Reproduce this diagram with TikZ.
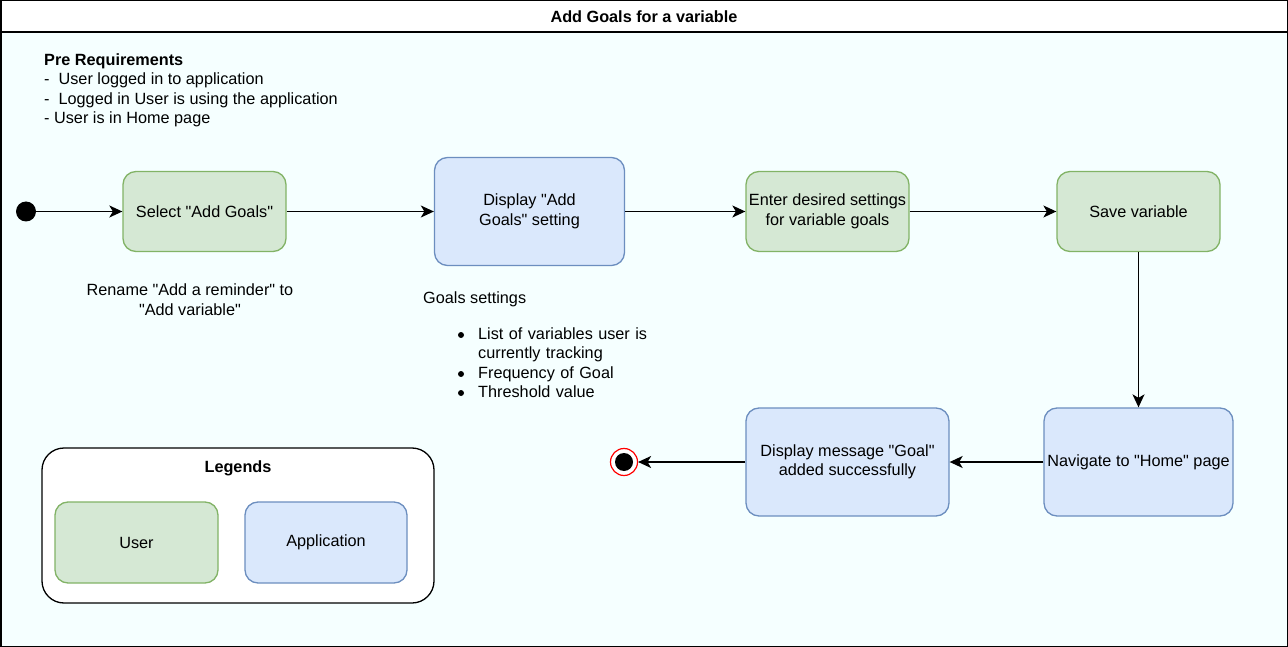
\documentclass[tikz,border=0pt]{standalone}
\usepackage{fontspec}
\setmainfont{Liberation Sans}[Ligatures=TeXOff]
\usetikzlibrary{arrows.meta}
\definecolor{bgc}{RGB}{245,255,255}
\definecolor{ufill}{HTML}{D5E8D4}
\definecolor{ustroke}{HTML}{82B366}
\definecolor{afill}{HTML}{DAE8FC}
\definecolor{astroke}{HTML}{6C8EBF}
\newcommand{\fs}{\fontsize{16.25}{19.5}\selectfont}
\tikzset{
  base/.style={rounded corners=13pt, line width=1.3pt, inner sep=2pt, align=center, font=\fs},
  userbox/.style={base, draw=ustroke, fill=ufill},
  appbox/.style={base, draw=astroke, fill=afill},
  plain/.style={inner sep=0pt, font=\fs},
  conn/.style={line width=1.4pt, -{Stealth[length=13pt,width=12pt,inset=3.5pt]}},
}
\begin{document}
\begin{tikzpicture}[x=1pt,y=-1pt]
\useasboundingbox (0,0) rectangle (1288,647);
% frame
\fill[bgc] (0,32) rectangle (1288,647);
\fill[white] (0,0) rectangle (1288,32);
\draw[line width=1.5pt] (0.75,0.75) rectangle (1287.25,646.25);
\draw[line width=1.5pt] (0,32) -- (1288,32);
\node[plain, font=\fs\bfseries] (title) at (644,17) {Add Goals for a variable};

% pre requirements
\node[plain, anchor=north west, align=left] (pre) at (44,53.5)
  {\textbf{Pre Requirements}\\-\ \ User logged in to application\\-\ \ Logged in User is using the application\\- User is in Home page};

% start
\node[circle, fill=black, minimum size=20pt, inner sep=0pt] (start) at (26,211.5) {};

% boxes
\node[userbox, minimum width=163pt, minimum height=80pt] (select) at (204.5,211.5) {Select "Add Goals"};
\node[appbox, minimum width=190pt, minimum height=108pt] (disp) at (529.5,211.5) {Display "Add\\Goals" setting};
\node[userbox, minimum width=163pt, minimum height=80pt] (enter) at (827.5,211.5) {Enter desired settings\\for variable goals};
\node[userbox, minimum width=163pt, minimum height=80pt] (save) at (1138.5,211.5) {Save variable};
\node[appbox, minimum width=189pt, minimum height=108pt] (nav) at (1138.5,462) {Navigate to "Home" page};
\node[appbox, minimum width=203pt, minimum height=108pt] (msg) at (847.5,462) {Display message "Goal"\\added successfully};

% end
\node[circle, draw=red, fill=white, line width=1.2pt, minimum size=27pt, inner sep=0pt] (end) at (624,462) {};
\node[circle, fill=black, minimum size=18pt, inner sep=0pt] (endin) at (624,462) {};

% notes
\node[plain, align=center] (rename) at (190,299.5) {Rename "Add a reminder" to\\"Add variable"};
\node[plain, anchor=west] (gs) at (423,299) {Goals settings};
\node[plain, anchor=north west, align=left, text width=200pt] (gl) at (478,327.5)
  {List of variables user is\\currently tracking\\Frequency of Goal\\Threshold value};
\foreach \yy in {335,374,393}{
  \fill (461,\yy) circle (3pt);
}

% connectors
\draw[conn] (start) -- (select);
\draw[conn] (select) -- (disp);
\draw[conn] (disp) -- (enter);
\draw[conn] (enter) -- (save);
\draw[conn] (save) -- (nav);
\draw[conn] (nav) -- (msg);
\draw[conn] (msg) -- (end);

% legend
\node[draw=black, fill=white, rounded corners=22pt, line width=1.3pt, minimum width=392pt, minimum height=155pt, inner sep=0pt] (leg) at (238,525.5) {};
\node[plain, font=\fs\bfseries] (legt) at (238,468) {Legends};
\node[userbox, minimum width=163pt, minimum height=81pt] (luser) at (136.5,542.5) {User};
\node[appbox, minimum width=162pt, minimum height=81pt] (lapp) at (326,542.5) {Application};
\end{tikzpicture}
\end{document}
